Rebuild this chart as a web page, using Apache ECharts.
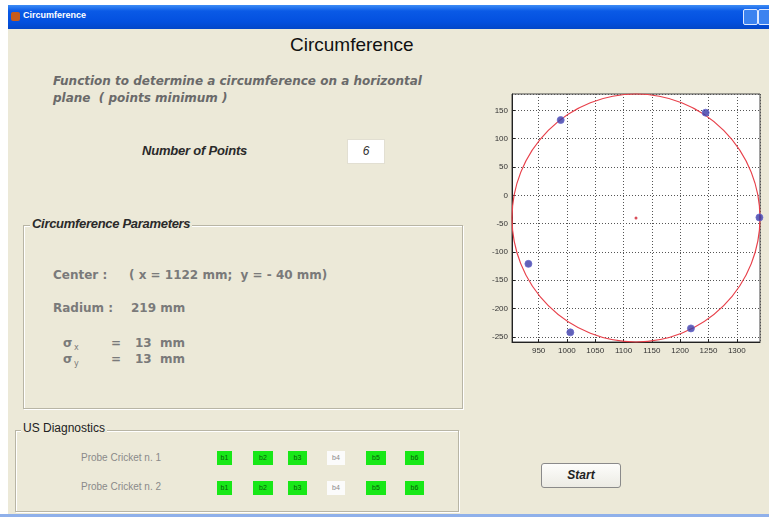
<!DOCTYPE html>
<html>
<head>
<meta charset="utf-8">
<script src="https://cdn.jsdelivr.net/npm/echarts@6/dist/echarts.min.js"></script>
<style>
  html, body { margin:0; padding:0; background:#fff; width:769px; height:517px; overflow:hidden; }
  .abs { position:absolute; white-space:nowrap; }
  #win { position:absolute; left:8px; top:5px; width:761px; height:512px; background:#ECE9D8; }
  #titlebar { position:absolute; left:8px; top:5px; width:761px; height:24px;
    background:linear-gradient(#3d8cf5 0%, #0a5ae6 25%, #0350df 70%, #0347c8 100%); }
  #titlebar .t { position:absolute; left:15px; top:5px; color:#fff; font:bold 9px "Liberation Sans", Arial, sans-serif; }
  #titlebar .ic { position:absolute; left:3px; top:7px; width:9px; height:9px; background:#c75b1a; border-radius:2px; }
  .btn { position:absolute; top:4px; width:13px; height:14px; border:1px solid #dde8ff; border-radius:2px; background:#3c83f0; }
  .gbox { position:absolute; border:1px solid #b8b5a5; box-shadow:1px 1px 0 #fff inset, 1px 1px 0 #fff; }
  .legend { position:absolute; background:#ECE9D8; padding:0 2px; }
  .par { font:bold 12px "DejaVu Sans", Verdana, sans-serif; color:#7a7a7a; }
  .led { position:absolute; height:14px; background:#18e818; font:7px "Liberation Sans", Arial; color:#0a5a0a; text-align:center; line-height:14px; }
  .led.off { background:#fbfbfb; color:#888; }
  .probe { font:10px "Liberation Sans", Arial, sans-serif; color:#8a8a8a; }
  #chart { position:absolute; left:480px; top:80px; width:289px; height:300px; }
</style>
</head>
<body>
<div id="win"></div>
<div id="titlebar"><div class="ic"></div><div class="t">Circumference</div>
  <div class="btn" style="left:735px"></div><div class="btn" style="left:750px"></div>
  <div class="btn" style="left:763px;background:#d9542a"></div></div>
<div class="abs" style="left:0;top:514px;width:769px;height:3px;background:#8fb0ea"></div>

<div class="abs" style="left:290px;top:34px;font:19px 'Liberation Sans', Arial, sans-serif;color:#111">Circumference</div>
<div class="abs" style="left:53px;top:74px;font:italic bold 12px 'DejaVu Sans', Verdana, sans-serif;color:#6a6a6a">Function to determine a circumference on a horizontal</div>
<div class="abs" style="left:53px;top:91px;font:italic bold 12px 'DejaVu Sans', Verdana, sans-serif;color:#6a6a6a">plane &nbsp;( points minimum )</div>
<div class="abs" style="left:142px;top:143px;font:italic bold 13px 'Liberation Sans', Arial, sans-serif;color:#2a2a2a;letter-spacing:-0.2px">Number of Points</div>
<div class="abs" style="left:347px;top:139px;width:36px;height:23px;background:#fff;border:1px solid #e2dfd2;font:italic 12px 'Liberation Sans', Arial;color:#333;text-align:center;line-height:23px">6</div>

<div class="gbox" style="left:23px;top:225px;width:438px;height:182px"></div>
<div class="legend abs" style="left:30px;top:216px;font:italic bold 13px 'Liberation Sans', Arial, sans-serif;color:#2a2a2a;letter-spacing:-0.3px">Circumference Parameters</div>
<div class="abs par" style="left:53px;top:268px">Center :</div>
<div class="abs par" style="left:129px;top:268px">( x = 1122 mm;&nbsp; y = - 40 mm)</div>
<div class="abs par" style="left:53px;top:301px">Radium :</div>
<div class="abs par" style="left:131px;top:301px">219 mm</div>
<div class="abs par" style="left:63px;top:336px">σ<sub style="font-size:8px;font-weight:normal">&thinsp;x</sub></div>
<div class="abs par" style="left:111px;top:336px">=</div>
<div class="abs par" style="left:135px;top:336px">13&nbsp; mm</div>
<div class="abs par" style="left:63px;top:352px">σ<sub style="font-size:8px;font-weight:normal">&thinsp;y</sub></div>
<div class="abs par" style="left:111px;top:352px">=</div>
<div class="abs par" style="left:135px;top:352px">13&nbsp; mm</div>

<div class="gbox" style="left:15px;top:430px;width:442px;height:80px"></div>
<div class="legend abs" style="left:21px;top:421px;font:12px 'Liberation Sans', Arial, sans-serif;color:#222">US Diagnostics</div>
<div class="abs probe" style="left:81px;top:452px">Probe Cricket n. 1</div>
<div class="abs probe" style="left:81px;top:481px">Probe Cricket n. 2</div>
<div id="leds"></div>

<div class="abs" style="left:541px;top:463px;width:78px;height:23px;border:1px solid #8a8a8a;border-radius:3px;background:linear-gradient(#fdfdfb,#ecebe4);font:italic bold 12px 'Liberation Sans', Arial;color:#222;text-align:center;line-height:23px">Start</div>

<div id="chart"></div>
<script>
// ---- data ----
const pointsX = [989, 1245, 1340, 1219, 1006, 932];
const pointsY = [133, 146, -39, -235, -242, -121];
const centerX = 1122;
const centerY = -40;
const radius = 219;
const xMin = 903, xMax = 1341;
const yMin = -259, yMax = 179;
const ledLabels = ['b1', 'b2', 'b3', 'b4', 'b5', 'b6'];
const ledRow1 = [1, 1, 1, 0, 1, 1];
const ledRow2 = [1, 1, 1, 0, 1, 1];

// LEDs (GUI, not chart)
const ledX = [217, 253, 288, 327, 366, 405];
const ledW = [15, 20, 19, 18, 20, 19];
const ledsEl = document.getElementById('leds');
[[ledRow1, 451], [ledRow2, 481]].forEach(([row, top]) => {
  row.forEach((on, i) => {
    const d = document.createElement('div');
    d.className = 'led' + (on ? '' : ' off');
    d.style.left = ledX[i] + 'px';
    d.style.width = ledW[i] + 'px';
    d.style.top = top + 'px';
    d.textContent = ledLabels[i];
    ledsEl.appendChild(d);
  });
});

const chart = echarts.init(document.getElementById('chart'), null, { renderer: 'canvas' });
const labelCommon = { show: true, showMinLabel: false, showMaxLabel: false, fontSize: 8, color: '#333',
  fontFamily: 'Liberation Sans, Arial', formatter: v => String(v) };
const axisCommon = {
  type: 'value',
  minInterval: 50,
  maxInterval: 50,
  splitNumber: 9,
  axisLine: { show: true, onZero: false, lineStyle: { color: '#222', width: 1 } },
  axisTick: { show: true, inside: true, length: 3, lineStyle: { color: '#222' } },
  splitLine: { show: true, lineStyle: { color: '#555', type: [1, 2], width: 1 } }
};
chart.setOption({
  animation: false,
  backgroundColor: 'transparent',
  grid: { left: 32, top: 14, width: 248, height: 248, show: true, backgroundColor: '#fff', borderColor: '#444', borderWidth: 1 },
  xAxis: Object.assign({}, axisCommon, { min: xMin, max: xMax, axisLabel: Object.assign({}, labelCommon, { margin: 5 }) }),
  yAxis: Object.assign({}, axisCommon, { min: yMin, max: yMax, axisLabel: Object.assign({}, labelCommon, { margin: 4 }) }),
  series: [
    {
      type: 'custom',
      clip: false,
      data: [[centerX, centerY, radius]],
      encode: { x: 0, y: 1 },
      renderItem: function (params, api) {
        const c = api.coord([api.value(0), api.value(1)]);
        const r = api.size([api.value(2), 0])[0];
        return { type: 'circle', shape: { cx: c[0], cy: c[1], r: r },
          style: { fill: 'none', stroke: '#e8404a', lineWidth: 1.2 } };
      },
      z: 2
    },
    {
      type: 'scatter',
      data: pointsX.map((x, i) => [x, pointsY[i]]),
      symbol: 'circle',
      symbolSize: 7,
      itemStyle: { color: '#3a3aa6', borderColor: '#6a6acc', borderWidth: 1 },
      z: 3
    },
    {
      type: 'scatter',
      data: [[centerX, centerY]],
      symbol: 'circle',
      symbolSize: 3,
      itemStyle: { color: '#d02030' },
      z: 3
    }
  ]
});
</script>
</body>
</html>
